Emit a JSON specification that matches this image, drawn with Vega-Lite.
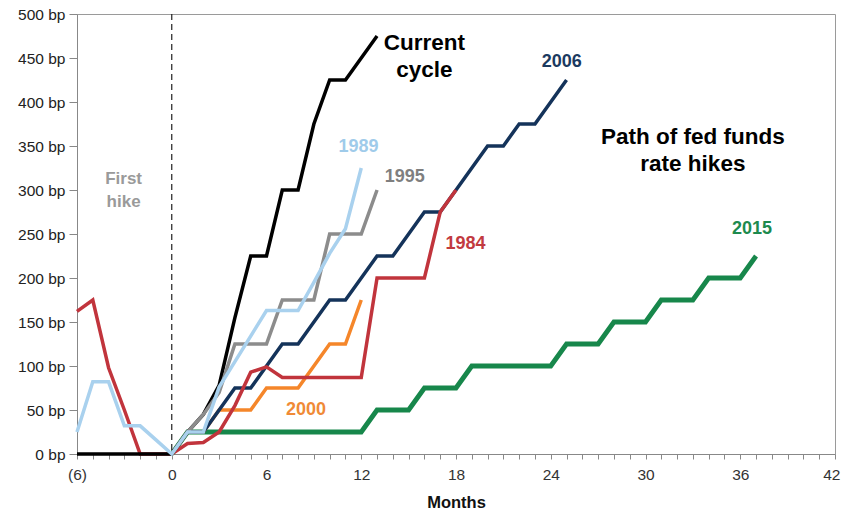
{
  "$schema": "https://vega.github.io/schema/vega-lite/v6.json",
  "width": 758,
  "height": 440,
  "autosize": "none",
  "padding": {"left": 77, "top": 14, "right": 7, "bottom": 58},
  "background": "white",
  "config": {
    "font": "Liberation Sans",
    "view": {"stroke": "#9a9a9a", "strokeWidth": 1},
    "axis": {"grid": false, "labelOverlap": false}
  },
  "datasets": {
    "series": [
      {"s": "2015", "m": 0, "bp": 0}, {"s": "2015", "m": 1, "bp": 25}, {"s": "2015", "m": 2, "bp": 25}, {"s": "2015", "m": 3, "bp": 25}, {"s": "2015", "m": 4, "bp": 25}, {"s": "2015", "m": 5, "bp": 25}, {"s": "2015", "m": 6, "bp": 25}, {"s": "2015", "m": 7, "bp": 25}, {"s": "2015", "m": 8, "bp": 25}, {"s": "2015", "m": 9, "bp": 25}, {"s": "2015", "m": 10, "bp": 25}, {"s": "2015", "m": 11, "bp": 25}, {"s": "2015", "m": 12, "bp": 25}, {"s": "2015", "m": 13, "bp": 50}, {"s": "2015", "m": 14, "bp": 50}, {"s": "2015", "m": 15, "bp": 50}, {"s": "2015", "m": 16, "bp": 75}, {"s": "2015", "m": 17, "bp": 75}, {"s": "2015", "m": 18, "bp": 75}, {"s": "2015", "m": 19, "bp": 100}, {"s": "2015", "m": 20, "bp": 100}, {"s": "2015", "m": 21, "bp": 100}, {"s": "2015", "m": 22, "bp": 100}, {"s": "2015", "m": 23, "bp": 100}, {"s": "2015", "m": 24, "bp": 100}, {"s": "2015", "m": 25, "bp": 125}, {"s": "2015", "m": 26, "bp": 125}, {"s": "2015", "m": 27, "bp": 125}, {"s": "2015", "m": 28, "bp": 150}, {"s": "2015", "m": 29, "bp": 150}, {"s": "2015", "m": 30, "bp": 150}, {"s": "2015", "m": 31, "bp": 175}, {"s": "2015", "m": 32, "bp": 175}, {"s": "2015", "m": 33, "bp": 175}, {"s": "2015", "m": 34, "bp": 200}, {"s": "2015", "m": 35, "bp": 200}, {"s": "2015", "m": 36, "bp": 200}, {"s": "2015", "m": 37, "bp": 225},
      {"s": "2000", "m": 0, "bp": 0}, {"s": "2000", "m": 1, "bp": 25}, {"s": "2000", "m": 2, "bp": 25}, {"s": "2000", "m": 3, "bp": 50}, {"s": "2000", "m": 4, "bp": 50}, {"s": "2000", "m": 5, "bp": 50}, {"s": "2000", "m": 6, "bp": 75}, {"s": "2000", "m": 7, "bp": 75}, {"s": "2000", "m": 8, "bp": 75}, {"s": "2000", "m": 9, "bp": 100}, {"s": "2000", "m": 10, "bp": 125}, {"s": "2000", "m": 11, "bp": 125}, {"s": "2000", "m": 12, "bp": 175},
      {"s": "2006", "m": 0, "bp": 0}, {"s": "2006", "m": 1, "bp": 25}, {"s": "2006", "m": 2, "bp": 25}, {"s": "2006", "m": 3, "bp": 50}, {"s": "2006", "m": 4, "bp": 75}, {"s": "2006", "m": 5, "bp": 75}, {"s": "2006", "m": 6, "bp": 100}, {"s": "2006", "m": 7, "bp": 125}, {"s": "2006", "m": 8, "bp": 125}, {"s": "2006", "m": 9, "bp": 150}, {"s": "2006", "m": 10, "bp": 175}, {"s": "2006", "m": 11, "bp": 175}, {"s": "2006", "m": 12, "bp": 200}, {"s": "2006", "m": 13, "bp": 225}, {"s": "2006", "m": 14, "bp": 225}, {"s": "2006", "m": 15, "bp": 250}, {"s": "2006", "m": 16, "bp": 275}, {"s": "2006", "m": 17, "bp": 275}, {"s": "2006", "m": 18, "bp": 300}, {"s": "2006", "m": 19, "bp": 325}, {"s": "2006", "m": 20, "bp": 350}, {"s": "2006", "m": 21, "bp": 350}, {"s": "2006", "m": 22, "bp": 375}, {"s": "2006", "m": 23, "bp": 375}, {"s": "2006", "m": 24, "bp": 400}, {"s": "2006", "m": 25, "bp": 425},
      {"s": "1984", "m": -6, "bp": 162}, {"s": "1984", "m": -5, "bp": 175}, {"s": "1984", "m": -4, "bp": 98}, {"s": "1984", "m": -3, "bp": 50}, {"s": "1984", "m": -2, "bp": 0}, {"s": "1984", "m": -1, "bp": 0}, {"s": "1984", "m": 0, "bp": 0}, {"s": "1984", "m": 1, "bp": 12}, {"s": "1984", "m": 2, "bp": 13}, {"s": "1984", "m": 3, "bp": 25}, {"s": "1984", "m": 4, "bp": 55}, {"s": "1984", "m": 5, "bp": 93}, {"s": "1984", "m": 6, "bp": 99}, {"s": "1984", "m": 7, "bp": 87}, {"s": "1984", "m": 8, "bp": 87}, {"s": "1984", "m": 9, "bp": 87}, {"s": "1984", "m": 10, "bp": 87}, {"s": "1984", "m": 11, "bp": 87}, {"s": "1984", "m": 12, "bp": 87}, {"s": "1984", "m": 13, "bp": 200}, {"s": "1984", "m": 14, "bp": 200}, {"s": "1984", "m": 15, "bp": 200}, {"s": "1984", "m": 16, "bp": 200}, {"s": "1984", "m": 17, "bp": 275}, {"s": "1984", "m": 18, "bp": 300},
      {"s": "Current", "m": -6, "bp": 0}, {"s": "Current", "m": -5, "bp": 0}, {"s": "Current", "m": -4, "bp": 0}, {"s": "Current", "m": -3, "bp": 0}, {"s": "Current", "m": -2, "bp": 0}, {"s": "Current", "m": -1, "bp": 0}, {"s": "Current", "m": 0, "bp": 0}, {"s": "Current", "m": 1, "bp": 25}, {"s": "Current", "m": 2, "bp": 45}, {"s": "Current", "m": 3, "bp": 78}, {"s": "Current", "m": 4, "bp": 155}, {"s": "Current", "m": 5, "bp": 225}, {"s": "Current", "m": 6, "bp": 225}, {"s": "Current", "m": 7, "bp": 300}, {"s": "Current", "m": 8, "bp": 300}, {"s": "Current", "m": 9, "bp": 375}, {"s": "Current", "m": 10, "bp": 425}, {"s": "Current", "m": 11, "bp": 425}, {"s": "Current", "m": 12, "bp": 450}, {"s": "Current", "m": 13, "bp": 475},
      {"s": "1995", "m": 0, "bp": 0}, {"s": "1995", "m": 1, "bp": 25}, {"s": "1995", "m": 2, "bp": 45}, {"s": "1995", "m": 3, "bp": 70}, {"s": "1995", "m": 4, "bp": 125}, {"s": "1995", "m": 5, "bp": 125}, {"s": "1995", "m": 6, "bp": 125}, {"s": "1995", "m": 7, "bp": 175}, {"s": "1995", "m": 8, "bp": 175}, {"s": "1995", "m": 9, "bp": 175}, {"s": "1995", "m": 10, "bp": 250}, {"s": "1995", "m": 11, "bp": 250}, {"s": "1995", "m": 12, "bp": 250}, {"s": "1995", "m": 13, "bp": 300},
      {"s": "1989", "m": -6, "bp": 25}, {"s": "1989", "m": -5, "bp": 82}, {"s": "1989", "m": -4, "bp": 82}, {"s": "1989", "m": -3, "bp": 32}, {"s": "1989", "m": -2, "bp": 32}, {"s": "1989", "m": -1, "bp": 16}, {"s": "1989", "m": 0, "bp": 0}, {"s": "1989", "m": 1, "bp": 25}, {"s": "1989", "m": 2, "bp": 25}, {"s": "1989", "m": 3, "bp": 76}, {"s": "1989", "m": 4, "bp": 105}, {"s": "1989", "m": 5, "bp": 134}, {"s": "1989", "m": 6, "bp": 163}, {"s": "1989", "m": 7, "bp": 163}, {"s": "1989", "m": 8, "bp": 163}, {"s": "1989", "m": 9, "bp": 195}, {"s": "1989", "m": 10, "bp": 228}, {"s": "1989", "m": 11, "bp": 256}, {"s": "1989", "m": 12, "bp": 325}
    ],
    "labels": [
      {"s": "Current", "g": "big", "t": "Current|cycle", "m": 16, "bp": 467},
      {"s": "Note", "g": "big", "t": "Path of fed funds|rate hikes", "m": 33, "bp": 360},
      {"s": "Hike", "g": "hike", "t": "First|hike", "m": -3.05, "bp": 313},
      {"s": "2006", "g": "year", "t": "2006", "m": 24.7, "bp": 445},
      {"s": "1989", "g": "year", "t": "1989", "m": 11.83, "bp": 349},
      {"s": "1995", "g": "year", "t": "1995", "m": 14.75, "bp": 315},
      {"s": "1984", "g": "year", "t": "1984", "m": 18.6, "bp": 239},
      {"s": "2000", "g": "year", "t": "2000", "m": 8.5, "bp": 50},
      {"s": "2015", "g": "year", "t": "2015", "m": 36.74, "bp": 256}
    ]
  },
  "layer": [
    {
      "data": {"name": "series"},
      "transform": [{"filter": "datum.s === '2015'"}],
      "mark": {"type": "line", "color": "#17874b", "strokeWidth": 4.8},
      "encoding": {
        "x": {
          "field": "m", "type": "quantitative",
          "scale": {"domain": [-6, 42], "nice": false, "zero": false},
          "axis": {
            "title": "Months",
            "titleFontSize": 16.5, "titleFontWeight": "bold", "titleColor": "#111", "titlePadding": 12,
            "values": [-6,-5,-4,-3,-2,-1,0,1,2,3,4,5,6,7,8,9,10,11,12,13,14,15,16,17,18,19,20,21,22,23,24,25,26,27,28,29,30,31,32,33,34,35,36,37,38,39,40,41,42],
            "tickCount": 100,
            "labelExpr": "datum.value % 6 === 0 ? (datum.value < 0 ? '(' + (-datum.value) + ')' : '' + datum.value) : ''",
            "labelOverlap": false, "labelFontSize": 15.5, "labelColor": "#333", "labelPadding": 8,
            "labelFlush": false,
            "labelAlign": {"condition": {"test": "datum.value === 42", "value": "right"}, "value": "center"},
            "labelOffset": {"condition": {"test": "datum.value === 42", "value": 5}, "value": 0},
            "tickSize": 5, "tickColor": "#888", "domainColor": "#888"
          }
        },
        "y": {
          "field": "bp", "type": "quantitative",
          "scale": {"domain": [0, 500], "nice": false},
          "axis": {
            "title": null,
            "values": [0, 50, 100, 150, 200, 250, 300, 350, 400, 450, 500],
            "tickCount": 20,
            "labelExpr": "datum.value + ' bp'",
            "labelFontSize": 15.5, "labelColor": "#222", "labelPadding": 4,
            "tickSize": 8, "tickColor": "#888", "domainColor": "#888"
          }
        }
      }
    },
    {
      "data": {"name": "series"},
      "transform": [{"filter": "datum.s === '2000'"}],
      "mark": {"type": "line", "color": "#f5862a", "strokeWidth": 3.5},
      "encoding": {"x": {"field": "m", "type": "quantitative"}, "y": {"field": "bp", "type": "quantitative"}}
    },
    {
      "data": {"name": "series"},
      "transform": [{"filter": "datum.s === '2006'"}],
      "mark": {"type": "line", "color": "#14335a", "strokeWidth": 3.5},
      "encoding": {"x": {"field": "m", "type": "quantitative"}, "y": {"field": "bp", "type": "quantitative"}}
    },
    {
      "data": {"name": "series"},
      "transform": [{"filter": "datum.s === '1984'"}],
      "mark": {"type": "line", "color": "#c1343c", "strokeWidth": 3.5},
      "encoding": {"x": {"field": "m", "type": "quantitative"}, "y": {"field": "bp", "type": "quantitative"}}
    },
    {
      "data": {"name": "series"},
      "transform": [{"filter": "datum.s === 'Current'"}],
      "mark": {"type": "line", "color": "#000000", "strokeWidth": 3.5},
      "encoding": {"x": {"field": "m", "type": "quantitative"}, "y": {"field": "bp", "type": "quantitative"}}
    },
    {
      "data": {"name": "series"},
      "transform": [{"filter": "datum.s === '1995'"}],
      "mark": {"type": "line", "color": "#8c8c8c", "strokeWidth": 3.5},
      "encoding": {"x": {"field": "m", "type": "quantitative"}, "y": {"field": "bp", "type": "quantitative"}}
    },
    {
      "data": {"name": "series"},
      "transform": [{"filter": "datum.s === '1989'"}],
      "mark": {"type": "line", "color": "#a9d1ee", "strokeWidth": 3.5},
      "encoding": {"x": {"field": "m", "type": "quantitative"}, "y": {"field": "bp", "type": "quantitative"}}
    },
    {
      "data": {"values": [{}]},
      "mark": {"type": "rule", "color": "#222", "strokeWidth": 1.2, "strokeDash": [6, 4]},
      "encoding": {"x": {"datum": 0, "type": "quantitative"}}
    },
    {
      "data": {"name": "labels"},
      "transform": [{"filter": "datum.g === 'big'"}],
      "mark": {"type": "text", "fontSize": 22.5, "fontWeight": "bold", "align": "center", "baseline": "middle", "lineBreak": "|", "lineHeight": 26.5},
      "encoding": {
        "x": {"field": "m", "type": "quantitative"},
        "y": {"field": "bp", "type": "quantitative"},
        "text": {"field": "t"},
        "color": {"field": "s", "type": "nominal", "legend": null,
          "scale": {"domain": ["Current", "Note", "Hike", "2006", "1989", "1995", "1984", "2000", "2015"],
                    "range": ["#000000", "#000000", "#9a9a9a", "#1b3a60", "#9fcbea", "#7f7f7f", "#c23a40", "#f08a36", "#1d8a4e"]}}
      }
    },
    {
      "data": {"name": "labels"},
      "transform": [{"filter": "datum.g === 'hike'"}],
      "mark": {"type": "text", "fontSize": 17, "fontWeight": "bold", "align": "center", "baseline": "middle", "lineBreak": "|", "lineHeight": 23},
      "encoding": {
        "x": {"field": "m", "type": "quantitative"},
        "y": {"field": "bp", "type": "quantitative"},
        "text": {"field": "t"},
        "color": {"field": "s", "type": "nominal", "legend": null}
      }
    },
    {
      "data": {"name": "labels"},
      "transform": [{"filter": "datum.g === 'year'"}],
      "mark": {"type": "text", "fontSize": 18, "fontWeight": "bold", "align": "center", "baseline": "middle"},
      "encoding": {
        "x": {"field": "m", "type": "quantitative"},
        "y": {"field": "bp", "type": "quantitative"},
        "text": {"field": "t"},
        "color": {"field": "s", "type": "nominal", "legend": null}
      }
    }
  ]
}
